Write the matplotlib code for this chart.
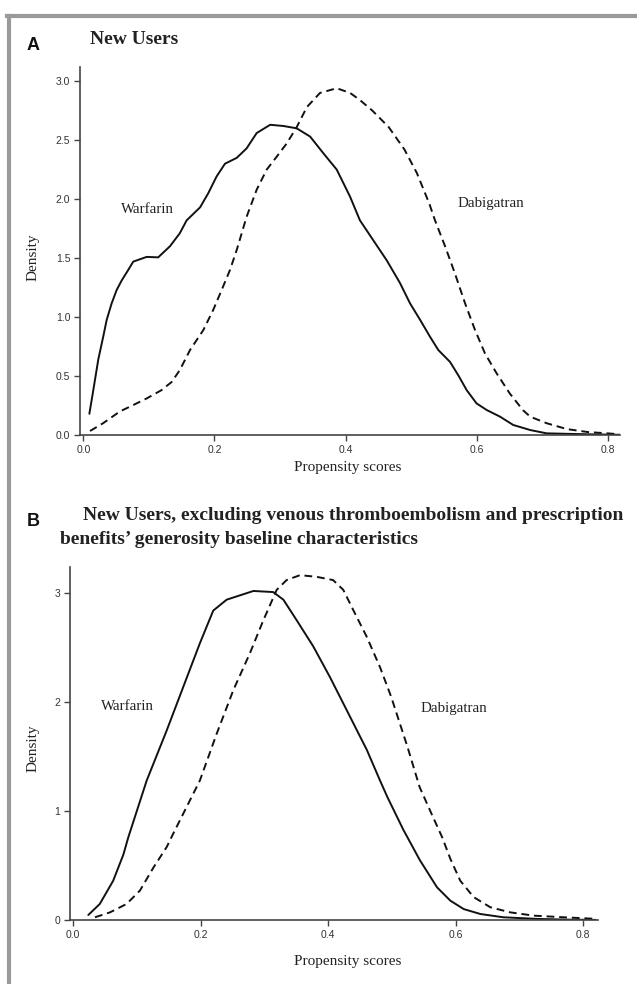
import numpy as np
import matplotlib
matplotlib.use('Agg')
import matplotlib.pyplot as plt
from matplotlib.lines import Line2D

# Panel A: new users (density curves)
a_warf_x = [0.009, 0.015, 0.0226, 0.030, 0.0354, 0.043, 0.0507, 0.0583, 0.0684, 0.076, 0.0965,
            0.114, 0.132, 0.147, 0.1575, 0.178, 0.1905, 0.203, 0.216, 0.234, 0.249, 0.2644,
            0.285, 0.305, 0.3255, 0.346, 0.366, 0.3866, 0.407, 0.422, 0.4425, 0.463, 0.483,
            0.4985, 0.514, 0.529, 0.5417, 0.5595, 0.572, 0.585, 0.600, 0.6155, 0.636, 0.656,
            0.682, 0.707, 0.738, 0.780, 0.818]
a_warf_y = [0.18, 0.38, 0.64, 0.83, 0.975, 1.116, 1.23, 1.31, 1.40, 1.47, 1.51,
            1.506, 1.60, 1.71, 1.82, 1.93, 2.05, 2.19, 2.30, 2.35, 2.43, 2.56,
            2.63, 2.62, 2.60, 2.53, 2.39, 2.25, 2.02, 1.82, 1.65, 1.48, 1.29,
            1.116, 0.975, 0.833, 0.72, 0.62, 0.508, 0.38, 0.268, 0.212, 0.155, 0.085,
            0.042, 0.014, 0.010, 0.005, 0.002]
a_dabi_x = [0.010, 0.030, 0.0557, 0.076, 0.0965, 0.119, 0.1347, 0.147, 0.1626, 0.183, 0.198,
            0.211, 0.2237, 0.234, 0.249, 0.2644, 0.2797, 0.295, 0.310, 0.3255, 0.341, 0.361,
            0.3866, 0.407, 0.422, 0.441, 0.466, 0.490, 0.509, 0.528, 0.5366, 0.552, 0.567,
            0.5825, 0.5977, 0.613, 0.631, 0.651, 0.671, 0.682, 0.707, 0.738, 0.770, 0.800, 0.818]
a_dabi_y = [0.034, 0.10, 0.20, 0.254, 0.31, 0.38, 0.45, 0.55, 0.72, 0.89, 1.06,
            1.23, 1.40, 1.57, 1.85, 2.08, 2.25, 2.36, 2.47, 2.61, 2.78, 2.90,
            2.94, 2.90, 2.84, 2.75, 2.61, 2.42, 2.22, 1.96, 1.82, 1.60, 1.37,
            1.116, 0.89, 0.69, 0.52, 0.35, 0.21, 0.155, 0.10, 0.05, 0.025, 0.014, 0.006]

# Panel B: excluding VTE and prescription benefits' generosity
b_warf_x = [0.024, 0.042, 0.063, 0.079, 0.0868, 0.1156, 0.147, 0.173, 0.199, 0.220, 0.241,
            0.262, 0.283, 0.314, 0.330, 0.351, 0.377, 0.403, 0.429, 0.461, 0.4816, 0.493,
            0.518, 0.544, 0.571, 0.592, 0.613, 0.639, 0.675, 0.728, 0.780, 0.820]
b_warf_y = [0.046, 0.147, 0.36, 0.60, 0.76, 1.28, 1.74, 2.14, 2.54, 2.84, 2.94,
            2.98, 3.02, 3.01, 2.94, 2.75, 2.51, 2.23, 1.93, 1.56, 1.28, 1.13,
            0.83, 0.55, 0.30, 0.177, 0.10, 0.055, 0.025, 0.010, 0.003, 0.001]
b_dabi_x = [0.0345, 0.058, 0.084, 0.105, 0.126, 0.147, 0.157, 0.199, 0.2254, 0.2515, 0.2776,
            0.2985, 0.3195, 0.335, 0.356, 0.382, 0.408, 0.424, 0.440, 0.4607, 0.4816, 0.499,
            0.5246, 0.5437, 0.562, 0.579, 0.592, 0.6075, 0.6285, 0.6546, 0.686, 0.7226, 0.770,
            0.822]
b_dabi_y = [0.025, 0.07, 0.147, 0.27, 0.48, 0.67, 0.79, 1.28, 1.71, 2.11, 2.45,
            2.75, 3.03, 3.12, 3.165, 3.15, 3.12, 3.03, 2.84, 2.60, 2.32, 2.05,
            1.59, 1.22, 0.98, 0.76, 0.56, 0.36, 0.21, 0.117, 0.07, 0.04, 0.025,
            0.01]

x_ticks = [0.0, 0.2, 0.4, 0.6, 0.8]
a_y_ticks = [0.0, 0.5, 1.0, 1.5, 2.0, 2.5, 3.0]
b_y_ticks = [0, 1, 2, 3]

W, H = 637, 984
SERIF = ['Liberation Serif', 'DejaVu Serif']
SANS = ['Liberation Sans', 'DejaVu Sans']
AXC = '#444444'
TXT = '#222222'


def fx(px):
    return px / W


def fy(py):
    return 1 - py / H


def setup(ax, xlim, ylim, yticks, ylabels):
    for s in ['top', 'right']:
        ax.spines[s].set_visible(False)
    for s in ['left', 'bottom']:
        ax.spines[s].set_color(AXC)
        ax.spines[s].set_linewidth(1.2)
    ax.set_xlim(*xlim)
    ax.set_ylim(*ylim)
    ax.set_xticks(x_ticks)
    ax.set_xticklabels(['%.1f' % v for v in x_ticks])
    ax.set_yticks(yticks)
    ax.set_yticklabels(ylabels)
    ax.tick_params(axis='both', direction='out', length=4, width=1, color=AXC,
                   labelsize=7.5, labelcolor='#333333', pad=3)
    for lab in ax.get_xticklabels() + ax.get_yticklabels():
        lab.set_family(SANS)


def curves(ax, wx, wy, dx, dy):
    ax.plot(wx, wy, color='#111111', lw=1.4, solid_joinstyle='round', solid_capstyle='round')
    ax.plot(dx, dy, color='#111111', lw=1.4, dashes=(4, 2.5), dash_joinstyle='round')


fig = plt.figure(figsize=(W / 100, H / 100), dpi=100)

# grey frame on top and left
fig.add_artist(Line2D([fx(7), fx(637)], [fy(16), fy(16)], color='#9a9a9a', lw=3))
fig.add_artist(Line2D([fx(9), fx(9)], [fy(16), fy(984)], color='#9a9a9a', lw=3))

# Panel A
axA = fig.add_axes([fx(80), fy(435), fx(620) - fx(80), fy(67) - fy(435)])
curves(axA, a_warf_x, a_warf_y, a_dabi_x, a_dabi_y)
setup(axA, (-0.0053, 0.819), (0, 3.12), a_y_ticks, ['%.1f' % v for v in a_y_ticks])
axA.text(0.098, 1.91, 'Warfarin', family=SERIF, fontsize=10.8, color=TXT, ha='center', va='center')
axA.text(0.622, 1.96, 'Dabigatran', family=SERIF, fontsize=10.8, color=TXT, ha='center', va='center')

fig.text(fx(33), fy(45), 'A', family=SANS, fontweight='bold', fontsize=13, color='#111111',
         ha='center', va='center')
fig.text(fx(134), fy(40), 'New Users', family=SERIF, fontweight='bold', fontsize=14,
         color=TXT, ha='center', va='center')
fig.text(fx(33), fy(257), 'Density', family=SERIF, fontsize=11, color=TXT, rotation=90,
         ha='center', va='center')
fig.text(fx(348), fy(467), 'Propensity scores', family=SERIF, fontsize=11, color=TXT,
         ha='center', va='center')

# Panel B
axB = fig.add_axes([fx(70), fy(920), fx(598) - fx(70), fy(567) - fy(920)])
curves(axB, b_warf_x, b_warf_y, b_dabi_x, b_dabi_y)
setup(axB, (-0.0047, 0.8235), (0, 3.24), b_y_ticks, [str(v) for v in b_y_ticks])
axB.text(0.086, 1.96, 'Warfarin', family=SERIF, fontsize=10.8, color=TXT, ha='center', va='center')
axB.text(0.598, 1.94, 'Dabigatran', family=SERIF, fontsize=10.8, color=TXT, ha='center', va='center')

fig.text(fx(33), fy(521), 'B', family=SANS, fontweight='bold', fontsize=13, color='#111111',
         ha='center', va='center')
fig.text(fx(83), fy(516), 'New Users, excluding venous thromboembolism and prescription',
         family=SERIF, fontweight='bold', fontsize=14, color=TXT, ha='left', va='center')
fig.text(fx(60), fy(539), 'benefits\u2019 generosity baseline characteristics',
         family=SERIF, fontweight='bold', fontsize=14, color=TXT, ha='left', va='center')
fig.text(fx(33), fy(748), 'Density', family=SERIF, fontsize=11, color=TXT, rotation=90,
         ha='center', va='center')
fig.text(fx(348), fy(962), 'Propensity scores', family=SERIF, fontsize=11, color=TXT,
         ha='center', va='center')

fig.savefig('out.png', dpi=100)
